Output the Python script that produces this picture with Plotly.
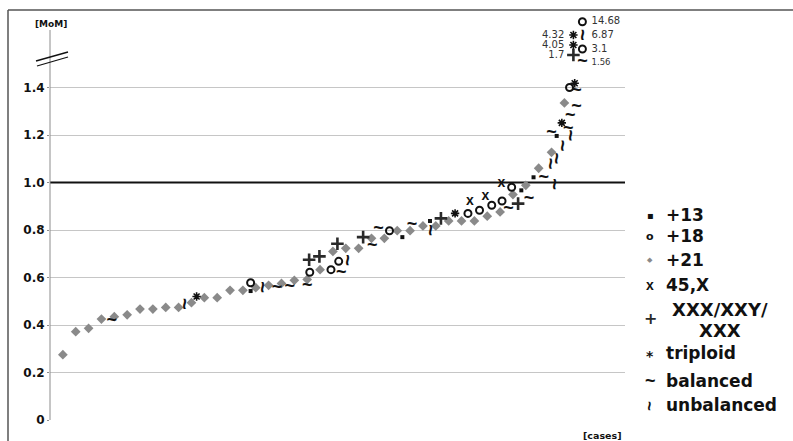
import plotly.graph_objects as go

# ---------------- data: MoM per case, sorted by case rank ----------------
p21_case = [2, 4, 6, 8, 10, 12, 14, 16, 18, 20, 22, 24, 26, 28, 30, 32, 34, 36, 38, 40,
            42, 44, 46, 48, 50, 52, 54, 56, 58, 60, 62, 64, 66, 68, 70, 72, 74, 76, 78, 80]
p21_mom = [0.275, 0.372, 0.386, 0.425, 0.435, 0.443, 0.467, 0.467, 0.474, 0.474,
           0.494, 0.515, 0.515, 0.546, 0.546, 0.557, 0.567, 0.575, 0.588, 0.592,
           0.633, 0.710, 0.723, 0.723, 0.765, 0.765, 0.797, 0.797, 0.817, 0.817,
           0.838, 0.838, 0.838, 0.858, 0.876, 0.949, 0.988, 1.060, 1.127, 1.335]

p13_case = [31.2, 54.8, 59.1, 73.3, 75.2, 78.8]
p13_mom = [0.543, 0.770, 0.838, 0.967, 1.022, 1.196]

p18_case = [31.2, 40.4, 43.7, 44.9, 52.8, 65.0, 66.8, 68.7, 70.3, 71.8, 80.8]
p18_mom = [0.578, 0.622, 0.633, 0.668, 0.797, 0.870, 0.883, 0.904, 0.922, 0.980, 1.400]

x45_case = [65.3, 67.7, 70.2]
x45_mom = [0.918, 0.939, 0.994]

xxx_case = [40.3, 41.9, 44.7, 48.7, 60.8, 72.8]
xxx_mom = [0.675, 0.689, 0.742, 0.770, 0.849, 0.911]

trip_case = [22.8, 63.0, 79.6, 81.6]
trip_mom = [0.520, 0.870, 1.251, 1.418]

bal_case = [9.6, 35.3, 37.3, 40.0, 45.3, 50.1, 51.1, 56.3, 71.3, 74.5, 76.8, 78.0,
            80.6, 80.9, 81.9, 81.9]
bal_mom = [0.414, 0.553, 0.557, 0.561, 0.615, 0.731, 0.803, 0.821, 0.886, 0.928,
           1.018, 1.205, 1.223, 1.279, 1.314, 1.383]

unbal_case = [21.0, 33.2, 46.4, 59.2, 77.9, 78.5, 78.8, 79.8, 81.1]
unbal_mom = [0.488, 0.557, 0.671, 0.800, 1.079, 0.994, 1.102, 1.154, 1.196]

# cases beyond the axis break: stacked in two columns, ordered by value
brk_group = ["+18", "unbalanced", "triploid", "triploid", "+18", "XXX/XXY/XXX", "balanced"]
brk_case = [82.8, 82.8, 81.4, 81.4, 82.8, 81.4, 82.8]
brk_mom = [14.68, 6.87, 4.32, 4.05, 3.1, 1.7, 1.56]

y_ticks = [0, 0.2, 0.4, 0.6, 0.8, 1.0, 1.2, 1.4]
y_ticktext = ["0", "0.2", "0.4", "0.6", "0.8", "1.0", "1.2", "1.4"]

legend_names = ["+13", "+18", "+21", "45,X", "XXX/XXY/", "triploid", "balanced", "unbalanced"]
legend_name_cont = "XXX"

# ---------------- styling ----------------
FONT = "DejaVu Sans"
ARIAL = "Liberation Sans"
BLACK = "#111111"
GRAY = "#8a8a8a"
GRID = "#c6c6c6"

W, H = 793, 441
ML, MR, MT, MB = 50, 0, 10, 21
PW, PH = W - ML - MR, H - MT - MB          # plotting region in px
X_END_PX = 625                             # right end of the gridlines
CASE_PX = 6.43                             # px per case slot
Y0_PX, PX_PER_UNIT = 420, 237.5            # MoM 0 line and scale
Y_TOP_PX = 74                              # top of the linear part


def py(px_y):
    return (H - MB - px_y) / PH


def px(px_x):
    return (px_x - ML) / PW


x_dom = [0, (X_END_PX - ML) / PW]
x_rng = [0, (X_END_PX - ML) / CASE_PX]
y_dom = [0, py(Y_TOP_PX)]
y_rng = [0, (Y0_PX - Y_TOP_PX) / PX_PER_UNIT]

# the two columns above the break each get their own ordinal band
right_col = max(brk_case)
col_axis = {True: "y2", False: "y3"}
col_cats = {k: [str(v) for v in sorted(v for c, v in zip(brk_case, brk_mom)
                                       if (c >= right_col) == k)]
            for k in (True, False)}
axis_cats = {col_axis[k]: col_cats[k] for k in (True, False)}
col_dom = {True: [py(62.7), py(21.7)], False: [py(55), py(35)]}

marker_styles = {
    "+13": dict(symbol="square", size=4, color=BLACK),
    "+18": dict(symbol="circle-open", size=7, color=BLACK, line=dict(width=2, color=BLACK)),
    "+21": dict(symbol="diamond", size=7.5, color=GRAY, line=dict(width=0)),
    "XXX/XXY/XXX": dict(symbol="cross-thin", size=9, color="#2a2a2a",
                        line=dict(width=2.6, color="#2a2a2a")),
    "triploid": dict(symbol="asterisk-open", size=7, color=BLACK,
                     line=dict(width=1.6, color=BLACK)),
}
text_styles = {
    "45,X": dict(glyph="x", angle=0, font=dict(family=ARIAL, size=14, color=BLACK, weight="bold")),
    "balanced": dict(glyph="~", angle=0, font=dict(family=ARIAL, size=18, color=BLACK, weight="bold")),
    "unbalanced": dict(glyph="~", angle=90, font=dict(family=ARIAL, size=20, color=BLACK, weight="bold")),
}

series = [
    ("+21", p21_case, p21_mom),
    ("+13", p13_case, p13_mom),
    ("+18", p18_case, p18_mom),
    ("45,X", x45_case, x45_mom),
    ("XXX/XXY/XXX", xxx_case, xxx_mom),
    ("triploid", trip_case, trip_mom),
    ("balanced", bal_case, bal_mom),
    ("unbalanced", unbal_case, unbal_mom),
]

fig = go.Figure()
annotations = []

# MoM = 1 reference line, underneath the points
fig.add_trace(go.Scatter(x=x_rng, y=[1.0, 1.0], mode="lines",
                         line=dict(color=BLACK, width=2), showlegend=False,
                         hoverinfo="skip", cliponaxis=False))


def add_points(name, xs, ys, yaxis):
    if not xs:
        return
    if name in marker_styles:
        fig.add_trace(go.Scatter(x=xs, y=ys, mode="markers", marker=marker_styles[name],
                                 yaxis=yaxis, showlegend=False, hoverinfo="skip",
                                 cliponaxis=False))
        return
    st = text_styles[name]
    if st["angle"] == 0:
        fig.add_trace(go.Scatter(x=xs, y=ys, mode="text", text=[st["glyph"]] * len(xs),
                                 textfont=st["font"], textposition="middle center",
                                 yaxis=yaxis, showlegend=False, hoverinfo="skip",
                                 cliponaxis=False))
    else:
        for xv, yv in zip(xs, ys):
            # annotations on a category axis are placed by category index
            ypos = axis_cats[yaxis].index(yv) if yaxis in axis_cats else yv
            annotations.append(dict(text=st["glyph"], x=xv, y=ypos, xref="x", yref=yaxis,
                                    showarrow=False, textangle=st["angle"],
                                    xanchor="center", yanchor="middle",
                                    font=st["font"], borderpad=0))


for name, xs, ys in series:
    add_points(name, xs, ys, "y")
    for col in (True, False):
        sel = [(c, v) for g, c, v in zip(brk_group, brk_case, brk_mom)
               if g == name and (c >= right_col) == col]
        add_points(name, [c for c, _ in sel], [str(v) for _, v in sel], col_axis[col])

# value labels beside the points above the break
for col in (True, False):
    side = "right" if col else "left"
    sel = [(c, v) for c, v in zip(brk_case, brk_mom) if (c >= right_col) == col]
    fig.add_trace(go.Scatter(
        x=[c for c, _ in sel], y=[str(v) for _, v in sel], mode="markers+text",
        text=[str(v) for _, v in sel],
        textposition="middle " + side,
        textfont=dict(family=FONT, size=[8.5 if v < 1.6 else 10 for _, v in sel],
                      color="#333333"),
        marker=dict(size=13, opacity=0), yaxis=col_axis[col], showlegend=False,
        hoverinfo="skip", cliponaxis=False))

shapes = [
    # frame lines
    dict(type="line", xref="paper", yref="paper", x0=px(8), x1=px(W), y0=py(10), y1=py(10),
         line=dict(color="#555555", width=1.5)),
    dict(type="line", xref="paper", yref="paper", x0=px(8), x1=px(8), y0=py(10), y1=py(H),
         line=dict(color="#555555", width=1.5)),
    # vertical axis running up through the break
    dict(type="line", xref="paper", yref="paper", x0=0, x1=0, y0=0, y1=py(30),
         line=dict(color="#8c8c8c", width=1)),
    # break marks
    dict(type="line", xref="paper", yref="paper", x0=px(36), x1=px(68), y0=py(61), y1=py(52),
         line=dict(color=BLACK, width=1.3)),
    dict(type="line", xref="paper", yref="paper", x0=px(37), x1=px(68), y0=py(66), y1=py(57),
         line=dict(color=BLACK, width=1.3)),
]

annotations += [
    dict(text="[MoM]", xref="paper", yref="paper", x=px(51), y=py(24), showarrow=False,
         font=dict(family=FONT, size=9, color=BLACK, weight="bold"), xanchor="center",
         yanchor="middle"),
    dict(text="[cases]", xref="paper", yref="paper", x=px(602), y=py(435), showarrow=False,
         font=dict(family=FONT, size=9.5, color=BLACK, weight="bold"), xanchor="center",
         yanchor="middle"),
]

# legend drawn as glyph + label pairs
leg_glyphs = [
    ("▪", FONT, 10, BLACK, 0, 215),
    ("o", FONT, 11, BLACK, 0, 236),
    ("◆", FONT, 7, GRAY, 0, 260),
    ("x", ARIAL, 14, BLACK, 0, 285),
    ("+", FONT, 16, "#2a2a2a", 0, 318),
    ("*", FONT, 14, BLACK, 0, 356),
    ("~", ARIAL, 18, BLACK, 0, 381),
    ("~", ARIAL, 17, BLACK, 90, 406),
]
leg_label_y = [215, 236, 260, 285, 309, 353, 381, 405]
for (g, fam, sz, col, ang, gy), name, ly in zip(leg_glyphs, legend_names, leg_label_y):
    annotations.append(dict(text=g, xref="paper", yref="paper", x=px(650), y=py(gy),
                            showarrow=False, xanchor="center", yanchor="middle",
                            textangle=ang,
                            font=dict(family=fam, size=sz, color=col, weight="bold")))
    wrapped = name.endswith("/")
    annotations.append(dict(text=name, xref="paper", yref="paper",
                            x=px(720) if wrapped else px(664), y=py(ly),
                            showarrow=False, xanchor="center" if wrapped else "left",
                            yanchor="middle",
                            font=dict(family=FONT, size=18 if wrapped else 17,
                                      color=BLACK, weight="bold")))
annotations.append(dict(text=legend_name_cont, xref="paper", yref="paper", x=px(720), y=py(330),
                        showarrow=False, xanchor="center", yanchor="middle",
                        font=dict(family=FONT, size=18, color=BLACK, weight="bold")))

cat_axis = dict(type="category", categoryorder="array", showgrid=False, zeroline=False,
                showticklabels=False, showline=False, ticks="", anchor="x")

fig.update_layout(
    width=W, height=H,
    margin=dict(l=ML, r=MR, t=MT, b=MB, pad=0),
    paper_bgcolor="white", plot_bgcolor="rgba(0,0,0,0)",
    showlegend=False,
    xaxis=dict(domain=x_dom, range=x_rng, showgrid=False, zeroline=False,
               showticklabels=False, showline=False, ticks=""),
    yaxis=dict(domain=y_dom, range=y_rng, tickvals=y_ticks, ticktext=y_ticktext,
               showgrid=True, gridcolor=GRID, gridwidth=1, zeroline=False, showline=False,
               ticks="outside", ticklen=2, tickcolor="#8c8c8c",
               tickfont=dict(family=FONT, size=12, color=BLACK, weight="bold")),
    yaxis2=dict(cat_axis, domain=col_dom[True], categoryarray=col_cats[True],
                range=[0, len(col_cats[True]) - 1]),
    yaxis3=dict(cat_axis, domain=col_dom[False], categoryarray=col_cats[False],
                range=[0, len(col_cats[False]) - 1]),
    shapes=shapes,
    annotations=annotations,
)

fig.write_html("out.html")
